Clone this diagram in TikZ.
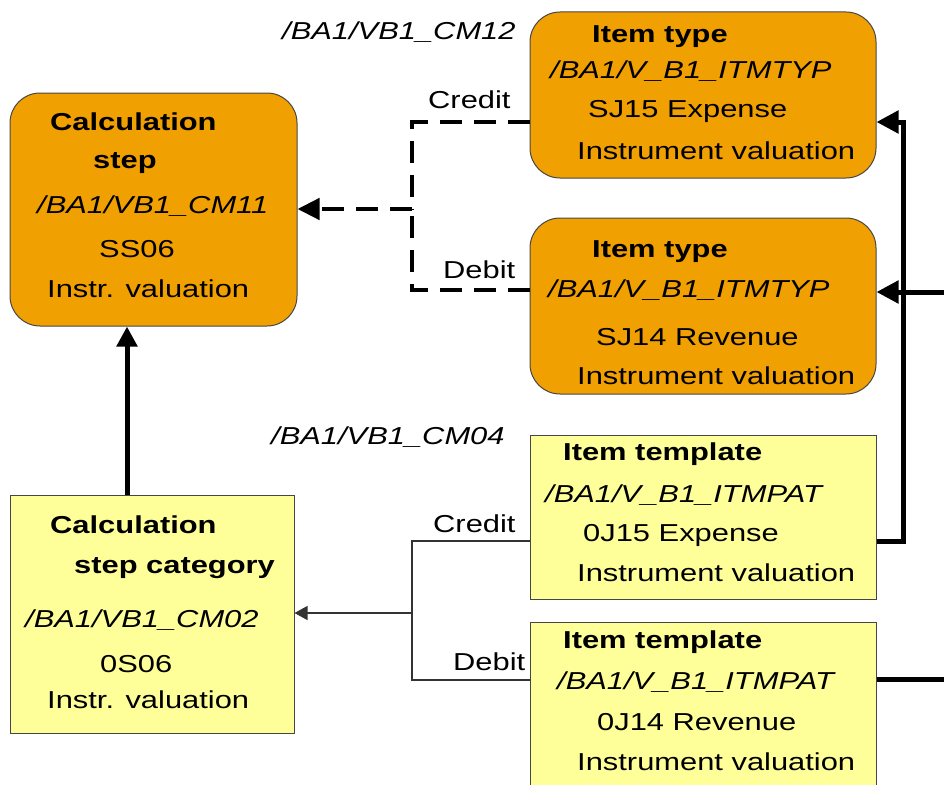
\documentclass[tikz,border=0pt]{standalone}
\usepackage{fontspec}
\setmainfont{Liberation Sans}[FakeStretch=1.26]
\usepackage{xcolor}
\usepackage{tikz}
\usetikzlibrary{arrows.meta}
\definecolor{naranja}{RGB}{240,160,0}
\definecolor{amarillo}{RGB}{255,255,153}
\definecolor{borde}{RGB}{70,70,70}

\tikzset{
  calcbox/.style={draw=borde, line width=1pt, fill=naranja, rounded corners=30pt, inner sep=0pt},
  tplbox/.style={draw=borde, line width=1pt, fill=amarillo, inner sep=0pt},
  lbl/.style={anchor=base west, inner sep=0pt, font=\fontsize{24.5}{29}\selectfont},
  ttl/.style={lbl, font=\fontsize{24.5}{29}\selectfont\bfseries},
  obj/.style={lbl, font=\fontsize{24.5}{29}\selectfont\itshape},
  dashline/.style={line width=4.5pt, dash pattern=on 22pt off 12pt},
  boldline/.style={line width=5pt},
  thinline/.style={line width=1.3pt, draw=black!80}
}

\begin{document}
\begin{tikzpicture}[x=1pt, y=-1pt]
        \clip (0,0) rectangle (944,784);
        % boxes
        \node[calcbox, minimum width=287pt, minimum height=233pt] (calcstep) at (153.5,209.5) {};
        \node[calcbox, minimum width=346pt, minimum height=166pt] (itype1) at (703,95) {};
        \node[calcbox, minimum width=346pt, minimum height=176pt] (itype2) at (703,306) {};
        \node[tplbox, minimum width=346pt, minimum height=164pt] (itpl1) at (703,517) {};
        \node[tplbox, minimum width=346pt, minimum height=178pt] (itpl2) at (703,711) {};
        \node[tplbox, minimum width=284pt, minimum height=238pt] (calccat) at (152,614) {};
        % calculation step
        \node[ttl] (cs1) at (50,130) {Calculation};
        \node[ttl] (cs2) at (93,168) {step};
        \node[obj] (cs3) at (37,213) {/BA1/VB1\_CM11};
        \node[lbl] (cs4) at (99,257) {SS06};
        \node[lbl] (cs5) at (47,297) {Instr. valuation};
        % item types
        \node[ttl] (it1a) at (592,42) {Item type};
        \node[obj] (it1b) at (550,78) {/BA1/V\_B1\_ITMTYP};
        \node[lbl] (it1c) at (588,117) {SJ15 Expense};
        \node[lbl] (it1d) at (577,159) {Instrument valuation};
        \node[ttl] (it2a) at (592,257) {Item type};
        \node[obj] (it2b) at (548,297) {/BA1/V\_B1\_ITMTYP};
        \node[lbl] (it2c) at (596,345) {SJ14 Revenue};
        \node[lbl] (it2d) at (577,384) {Instrument valuation};
        % item templates
        \node[ttl] (tp1a) at (563,460) {Item template};
        \node[obj] (tp1b) at (545,502) {/BA1/V\_B1\_ITMPAT};
        \node[lbl] (tp1c) at (583,541) {0J15 Expense};
        \node[lbl] (tp1d) at (577,581) {Instrument valuation};
        \node[ttl] (tp2a) at (563,648) {Item template};
        \node[obj] (tp2b) at (557,689) {/BA1/V\_B1\_ITMPAT};
        \node[lbl] (tp2c) at (597,730) {0J14 Revenue};
        \node[lbl] (tp2d) at (577,770) {Instrument valuation};
        % calculation step category
        \node[ttl] (cc1) at (50,533) {Calculation};
        \node[ttl] (cc2) at (74,573) {step category};
        \node[obj] (cc3) at (25,627) {/BA1/VB1\_CM02};
        \node[lbl] (cc4) at (100,672) {0S06};
        \node[lbl] (cc5) at (47,708) {Instr. valuation};
        % rule names
        \node[obj] (cm12) at (282,40) {/BA1/VB1\_CM12};
        \node[obj] (cm04) at (271,444) {/BA1/VB1\_CM04};
        % dashed rule
        \coordinate (dj) at (412,209);
        \draw[dashline] ([yshift=-27pt]itype1.west) -| (dj);
        \draw[dashline] ([yshift=16pt]itype2.west) -| (dj);
        \draw[dashline, -{Triangle[length=22pt, width=21pt]}] (dj) -- (calcstep.east |- dj);
        \node[lbl] (dcred) at (428,108) {Credit};
        \node[lbl] (ddeb) at (443,278) {Debit};
        % thin rule
        \coordinate (tj) at (412,613);
        \draw[thinline] ([yshift=-24pt]itpl1.west) -| (tj);
        \draw[thinline] ([yshift=31pt]itpl2.west) -| (tj);
        \draw[thinline, -{Triangle[length=13pt, width=14pt]}] (tj) -- (calccat.east |- tj);
        \node[lbl] (tcred) at (433,532) {Credit};
        \node[lbl] (tdeb) at (453,670) {Debit};
        % category to step
        \draw[boldline, -{Triangle[length=20pt, width=20pt]}] ([xshift=-25pt]calccat.north) -- ([xshift=-25pt]calccat.north |- calcstep.south);
        % right side
        \coordinate (rtop) at (903,122);
        \coordinate (rin) at (944,292);
        \coordinate (rout) at (944,679);
        \draw[boldline, -{Triangle[length=22pt, width=22pt]}] ([yshift=-24pt]itpl1.east) -| (rtop) -- ([yshift=-27pt]itype1.east);
        \draw[boldline, -{Triangle[length=22pt, width=22pt]}] (rin) -- ([yshift=14pt]itype2.east);
        \draw[boldline] ([yshift=32pt]itpl2.east) -- (rout);
\end{tikzpicture}
\end{document}
